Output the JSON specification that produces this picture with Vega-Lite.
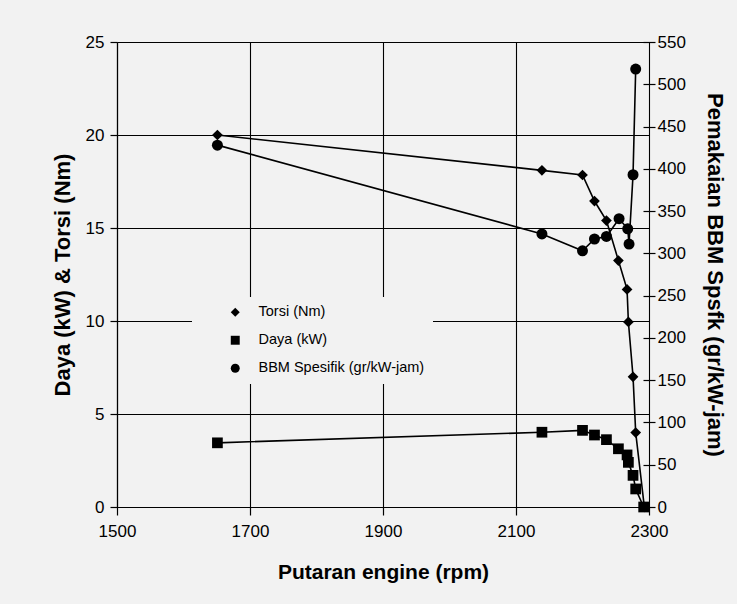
{
  "$schema": "https://vega.github.io/schema/vega-lite/v6.json",
  "width": 532,
  "height": 465,
  "autosize": "none",
  "padding": {"left": 117, "top": 42, "right": 88, "bottom": 97},
  "background": "#f2f2f2",
  "config": {
    "font": "Liberation Sans",
    "view": {"stroke": null},
    "axis": {
      "domainColor": "black", "domainWidth": 1.2,
      "tickColor": "black", "tickWidth": 1.2,
      "gridColor": "black", "gridWidth": 1.1, "gridOpacity": 1,
      "labelColor": "black", "titleColor": "black",
      "labelFont": "Liberation Sans", "titleFont": "Liberation Sans",
      "labelFontSize": 17, "titleFontWeight": "bold", "labelFlush": false
    }
  },
  "data": {
    "values": [
      {"rpm": 1651, "seri": "Torsi (Nm)", "nilai": 20.0},
      {"rpm": 2139, "seri": "Torsi (Nm)", "nilai": 18.1},
      {"rpm": 2200, "seri": "Torsi (Nm)", "nilai": 17.85},
      {"rpm": 2218, "seri": "Torsi (Nm)", "nilai": 16.45},
      {"rpm": 2236, "seri": "Torsi (Nm)", "nilai": 15.4},
      {"rpm": 2254, "seri": "Torsi (Nm)", "nilai": 13.25},
      {"rpm": 2267, "seri": "Torsi (Nm)", "nilai": 11.7},
      {"rpm": 2269, "seri": "Torsi (Nm)", "nilai": 9.95},
      {"rpm": 2276, "seri": "Torsi (Nm)", "nilai": 7.0},
      {"rpm": 2280, "seri": "Torsi (Nm)", "nilai": 4.0},
      {"rpm": 2293, "seri": "Torsi (Nm)", "nilai": 0},
      {"rpm": 1651, "seri": "Daya (kW)", "nilai": 3.45},
      {"rpm": 2139, "seri": "Daya (kW)", "nilai": 4.02},
      {"rpm": 2200, "seri": "Daya (kW)", "nilai": 4.12},
      {"rpm": 2218, "seri": "Daya (kW)", "nilai": 3.87},
      {"rpm": 2236, "seri": "Daya (kW)", "nilai": 3.62},
      {"rpm": 2254, "seri": "Daya (kW)", "nilai": 3.13},
      {"rpm": 2267, "seri": "Daya (kW)", "nilai": 2.8},
      {"rpm": 2269, "seri": "Daya (kW)", "nilai": 2.4},
      {"rpm": 2276, "seri": "Daya (kW)", "nilai": 1.7},
      {"rpm": 2280, "seri": "Daya (kW)", "nilai": 0.97},
      {"rpm": 2292, "seri": "Daya (kW)", "nilai": 0},
      {"rpm": 1651, "seri": "BBM Spesifik (gr/kW-jam)", "nilai": 428},
      {"rpm": 2139, "seri": "BBM Spesifik (gr/kW-jam)", "nilai": 323},
      {"rpm": 2200, "seri": "BBM Spesifik (gr/kW-jam)", "nilai": 303},
      {"rpm": 2218, "seri": "BBM Spesifik (gr/kW-jam)", "nilai": 317},
      {"rpm": 2236, "seri": "BBM Spesifik (gr/kW-jam)", "nilai": 320},
      {"rpm": 2255, "seri": "BBM Spesifik (gr/kW-jam)", "nilai": 341},
      {"rpm": 2268, "seri": "BBM Spesifik (gr/kW-jam)", "nilai": 329},
      {"rpm": 2270, "seri": "BBM Spesifik (gr/kW-jam)", "nilai": 311},
      {"rpm": 2276, "seri": "BBM Spesifik (gr/kW-jam)", "nilai": 393},
      {"rpm": 2280, "seri": "BBM Spesifik (gr/kW-jam)", "nilai": 518}
    ]
  },
  "encoding": {
    "x": {
      "field": "rpm", "type": "quantitative",
      "scale": {"domain": [1500, 2300], "nice": false, "zero": false},
      "axis": {
        "values": [1500, 1700, 1900, 2100, 2300], "grid": true,
        "title": "Putaran engine (rpm)", "titleFontSize": 21, "titlePadding": 22,
        "tickSize": 8, "labelPadding": 8, "format": "d"
      }
    }
  },
  "layer": [
    {
      "transform": [{"filter": "datum.seri !== 'BBM Spesifik (gr/kW-jam)'"}],
      "encoding": {
        "y": {
          "field": "nilai", "type": "quantitative",
          "scale": {"domain": [0, 25], "nice": false},
          "axis": {
            "values": [0, 5, 10, 15, 20, 25], "grid": true, "orient": "left",
            "title": "Daya (kW) & Torsi (Nm)", "titleFontSize": 22, "titlePadding": 11,
            "tickSize": 7, "labelPadding": 6
          }
        }
      },
      "layer": [
        {
          "mark": {"type": "line", "color": "black", "strokeWidth": 1.6},
          "encoding": {"detail": {"field": "seri"}}
        },
        {
          "mark": {"type": "point", "filled": true, "color": "black", "opacity": 1},
          "encoding": {
            "shape": {
              "field": "seri", "type": "nominal",
              "scale": {"domain": ["Torsi (Nm)", "Daya (kW)", "BBM Spesifik (gr/kW-jam)"], "range": ["diamond", "square", "circle"]},
              "legend": {
                "title": null, "orient": "none", "legendX": 75, "legendY": 255,
                "padding": 8, "rowPadding": 12, "symbolOffset": 28, "symbolSize": 80,
                "symbolFillColor": "black", "symbolStrokeColor": "black",
                "labelFontSize": 14.5, "labelFont": "Liberation Sans", "labelColor": "black",
                "labelOffset": 16, "labelLimit": 300,
                "fillColor": "#f2f2f2"
              }
            },
            "size": {"value": 115}
          }
        }
      ]
    },
    {
      "transform": [{"filter": "datum.seri === 'BBM Spesifik (gr/kW-jam)'"}],
      "encoding": {
        "y": {
          "field": "nilai", "type": "quantitative",
          "scale": {"domain": [0, 550], "nice": false},
          "axis": {
            "values": [0, 50, 100, 150, 200, 250, 300, 350, 400, 450, 500, 550],
            "grid": false, "orient": "right", "domain": false, "offset": -6,
            "title": "Pemakaian BBM Spsfk (gr/kW-jam)", "titleFontSize": 22, "titlePadding": 17,
            "tickSize": 12, "labelPadding": 2
          }
        }
      },
      "layer": [
        {
          "mark": {"type": "line", "color": "black", "strokeWidth": 1.6},
          "encoding": {}
        },
        {
          "mark": {"type": "point", "filled": true, "color": "black", "opacity": 1, "shape": "circle", "size": 121},
          "encoding": {}
        }
      ]
    }
  ],
  "resolve": {"scale": {"y": "independent"}}
}
